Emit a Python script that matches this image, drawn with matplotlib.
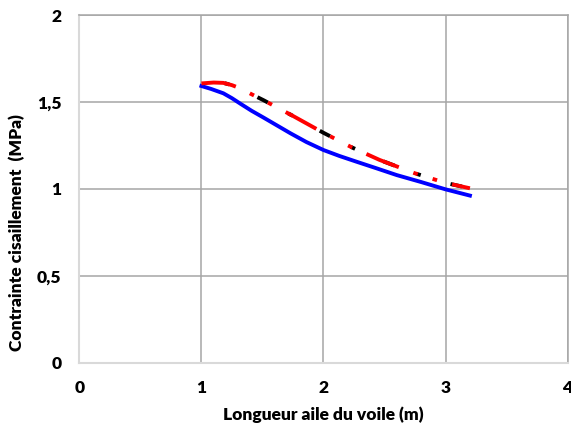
import matplotlib
matplotlib.use('Agg')
import matplotlib.pyplot as plt
from matplotlib.ticker import FuncFormatter

plt.rcParams['font.family'] = ['Lato', 'DejaVu Sans']

# values
x_blue = [1.0, 1.08, 1.18, 1.25, 1.32, 1.41, 1.51, 1.62, 1.73, 1.86, 2.0,
          2.13, 2.27, 2.43, 2.6, 2.8, 3.0, 3.2]
y_blue = [1.592, 1.575, 1.55, 1.522, 1.49, 1.45, 1.41, 1.365, 1.32, 1.27,
          1.224, 1.19, 1.157, 1.12, 1.08, 1.04, 0.998, 0.962]

x_red = [1.0, 1.1, 1.18, 1.25, 1.32, 1.41, 1.51, 1.75, 2.0, 2.23, 2.46,
         2.75, 3.0, 3.2]
y_red = [1.607, 1.612, 1.61, 1.597, 1.578, 1.545, 1.51, 1.42, 1.323, 1.24,
         1.167, 1.09, 1.035, 1.004]

x_ticks = [0, 1, 2, 3, 4]
y_ticks = [0, 0.5, 1, 1.5, 2]

fig = plt.figure(figsize=(5.71, 4.30), dpi=100)
ax = fig.add_axes([0.139, 0.156, 0.855, 0.809])

ax.plot(x_blue, y_blue, color='#0000ff', linewidth=2.8, zorder=3)
ax.plot(x_red, y_red, color='black', linewidth=2.8,
        linestyle=(3, (3, 6, 1.2, 8)), zorder=3)
ax.plot(x_red, y_red, color='#ff0000', linewidth=2.8,
        linestyle=(0, (9, 4, 1.2, 4, 1.2, 4)), zorder=4)

ax.set_xlim(0, 4)
ax.set_ylim(0, 2)
ax.set_xticks(x_ticks)
ax.set_yticks(y_ticks)
fmt = FuncFormatter(lambda v, p: ('%g' % v).replace('.', ','))
ax.xaxis.set_major_formatter(fmt)
ax.yaxis.set_major_formatter(fmt)
ax.tick_params(length=0, labelsize=12.5)
ax.tick_params(axis='x', pad=12)
ax.tick_params(axis='y', pad=13)
for lbl in ax.get_xticklabels() + ax.get_yticklabels():
    lbl.set_fontweight('heavy')

ax.grid(True, color='#a6a6a6', linewidth=1.1)
ax.set_axisbelow(True)
for s in ['top', 'right']:
    ax.spines[s].set_color('#a6a6a6')
    ax.spines[s].set_linewidth(1.1)
for s in ['left', 'bottom']:
    ax.spines[s].set_color('#d9d9d9')
    ax.spines[s].set_linewidth(1.5)

ax.set_xlabel('Longueur aile du voile (m)', fontsize=12.5, fontweight='heavy')
ax.set_ylabel('Contrainte cisaillement  (MPa)', fontsize=12.5, fontweight='heavy')
ax.xaxis.set_label_coords(0.5, -0.125)
ax.yaxis.set_label_coords(-0.112, 0.376)

fig.savefig('out.png', dpi=100)
